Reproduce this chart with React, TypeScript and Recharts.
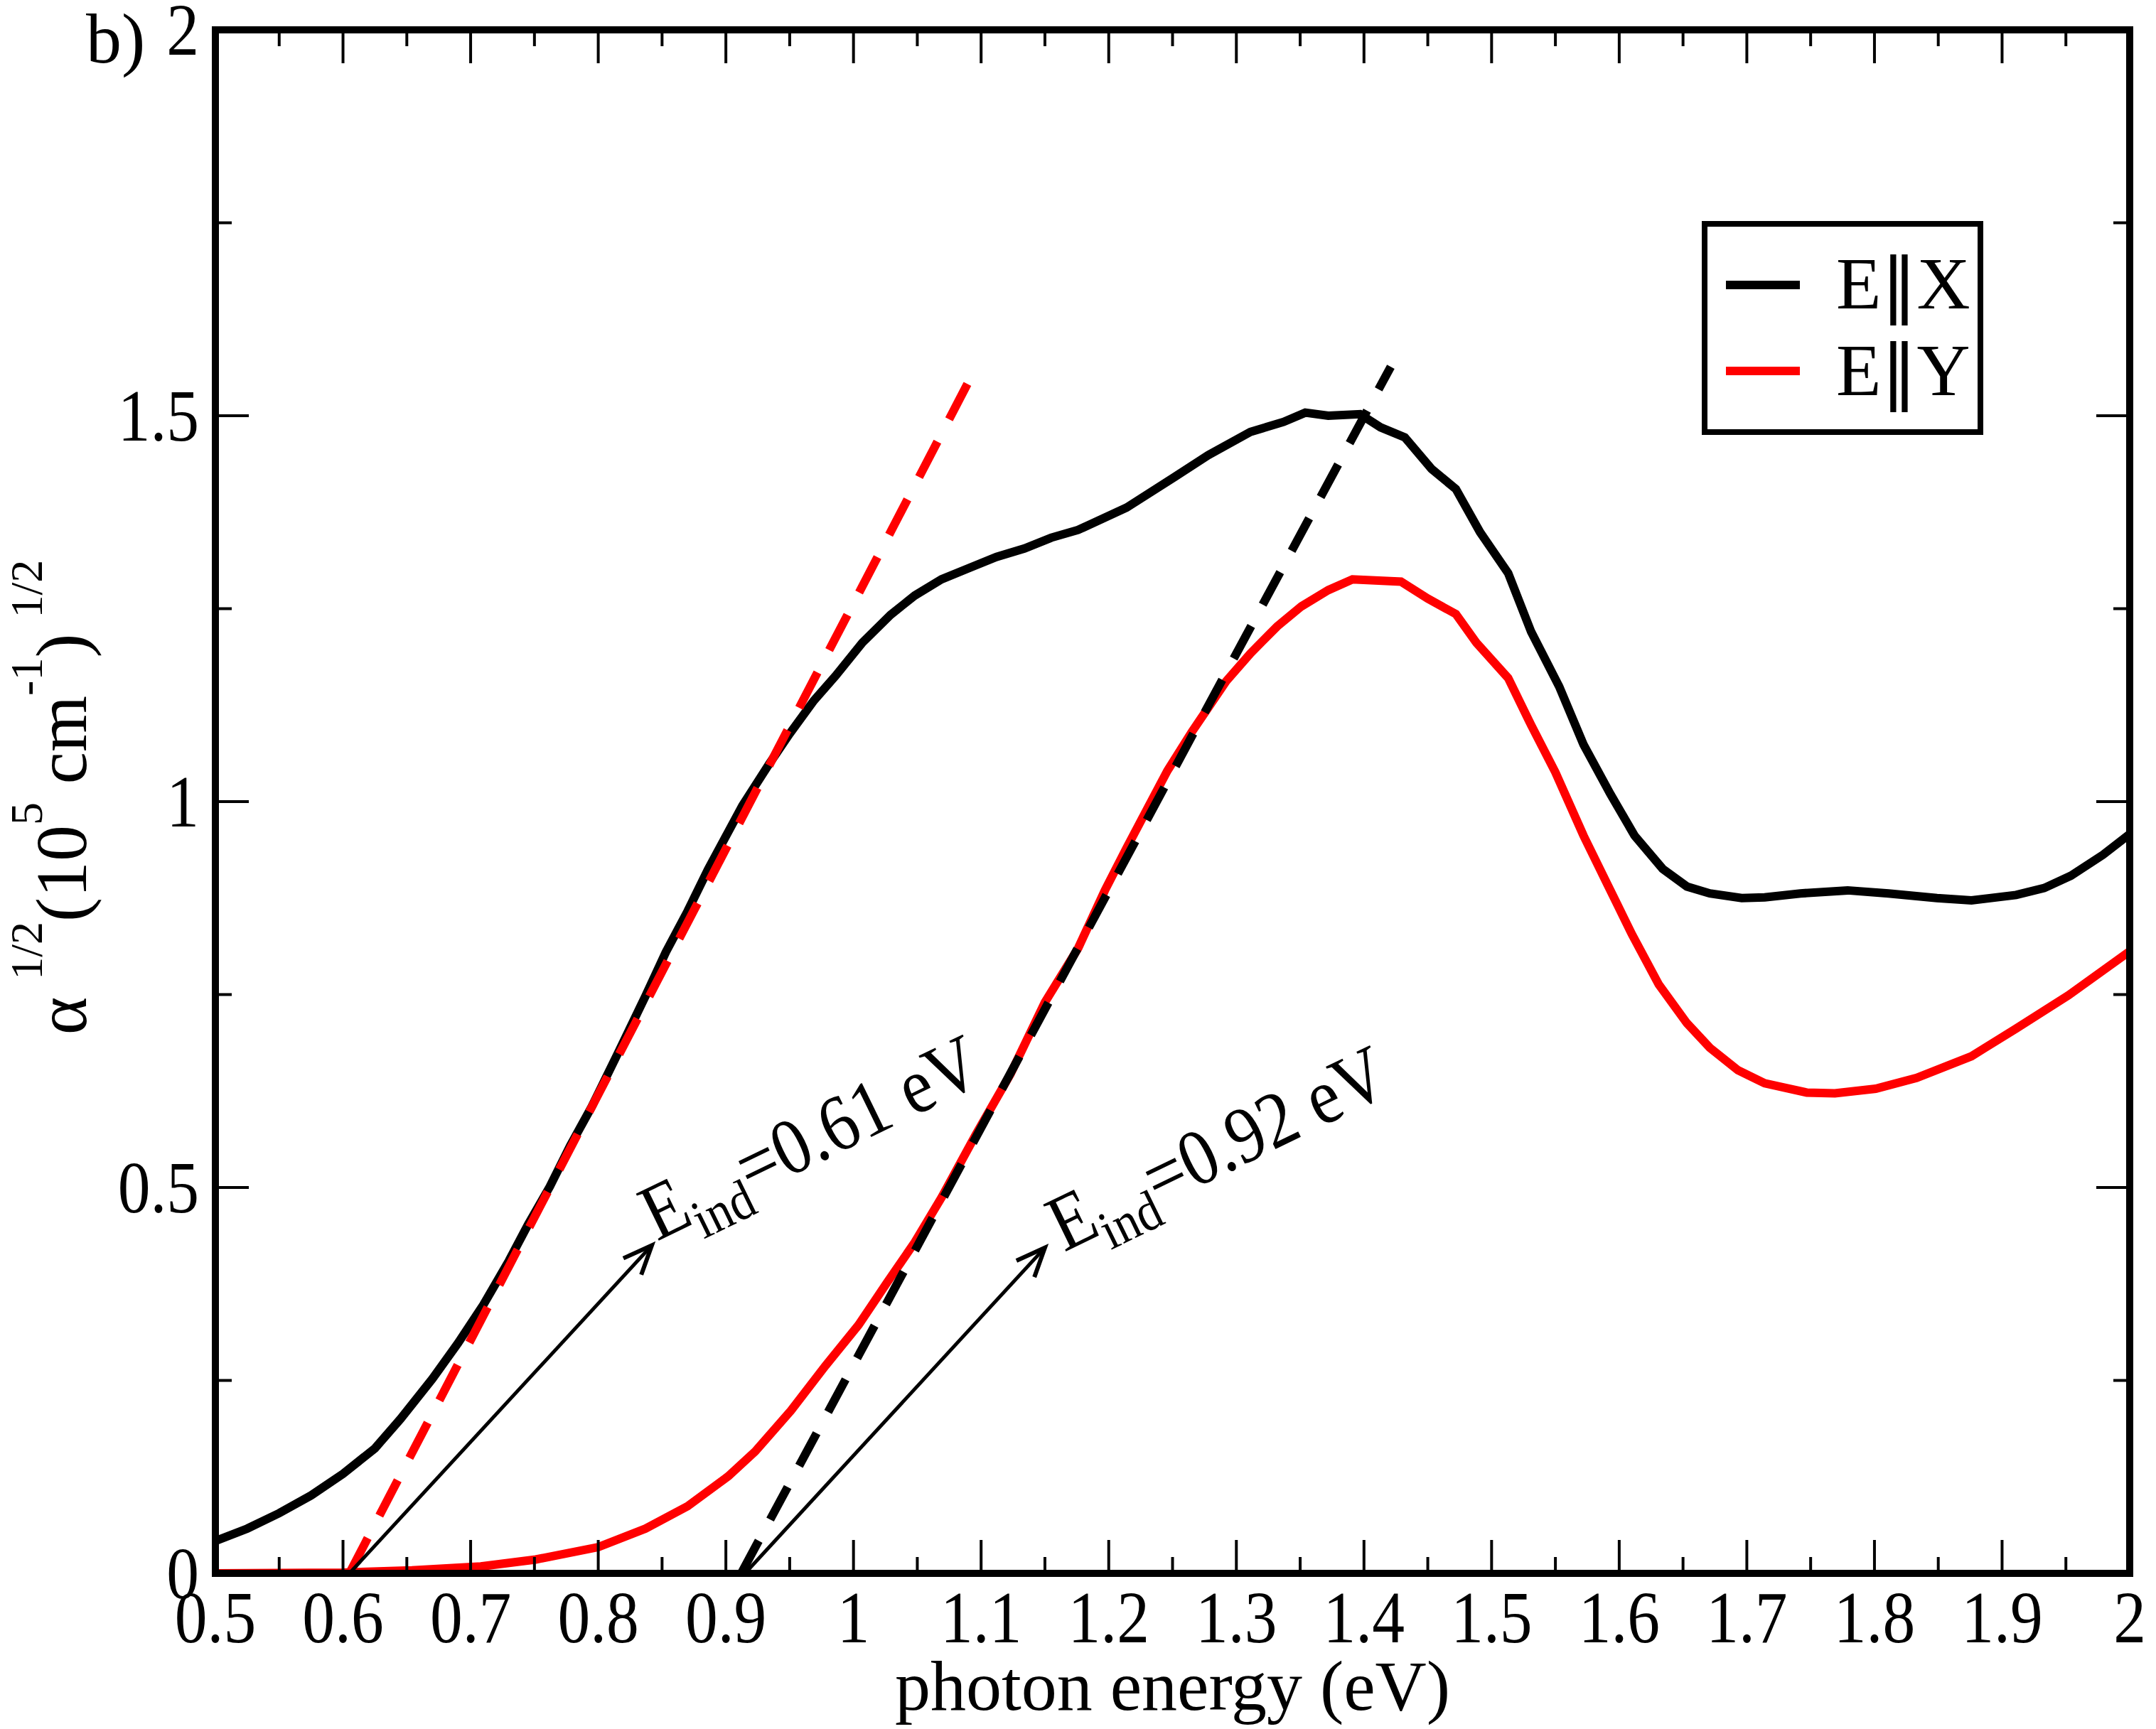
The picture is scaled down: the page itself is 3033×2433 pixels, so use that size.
import { LineChart, Line, XAxis, YAxis, Legend, ReferenceLine, ReferenceDot } from 'recharts'

const FONT = '"Liberation Serif", "Times New Roman", serif'

// tick values
const X_MAJOR = [0.5, 0.6, 0.7, 0.8, 0.9, 1, 1.1, 1.2, 1.3, 1.4, 1.5, 1.6, 1.7, 1.8, 1.9, 2]
const X_MINOR = [0.55, 0.65, 0.75, 0.85, 0.95, 1.05, 1.15, 1.25, 1.35, 1.45, 1.55, 1.65, 1.75, 1.85, 1.95]
const Y_MAJOR = [0, 0.5, 1, 1.5, 2]
const Y_MINOR = [0.25, 0.75, 1.25, 1.75]

// E||X, [photon energy, alpha^1/2]
const EX_POINTS: [number, number][] = [
  [0.5, 0.042], [0.525, 0.058], [0.55, 0.078], [0.575, 0.101], [0.6, 0.129], [0.625, 0.162],
  [0.645, 0.2], [0.67, 0.252], [0.69, 0.298], [0.71, 0.348], [0.73, 0.405], [0.745, 0.452],
  [0.762, 0.501], [0.778, 0.554], [0.795, 0.605], [0.816, 0.676], [0.837, 0.748], [0.853, 0.805],
  [0.87, 0.858], [0.886, 0.912], [0.913, 0.995], [0.934, 1.049], [0.95, 1.088], [0.969, 1.131],
  [0.986, 1.163], [1.007, 1.206], [1.029, 1.242], [1.048, 1.267], [1.069, 1.288], [1.091, 1.303],
  [1.112, 1.317], [1.134, 1.328], [1.155, 1.342], [1.176, 1.352], [1.214, 1.381], [1.251, 1.42],
  [1.278, 1.449], [1.311, 1.479], [1.337, 1.492], [1.354, 1.504], [1.372, 1.5], [1.397, 1.502],
  [1.413, 1.485], [1.432, 1.472], [1.453, 1.431], [1.472, 1.405], [1.491, 1.349], [1.513, 1.296],
  [1.531, 1.22], [1.553, 1.149], [1.572, 1.074], [1.593, 1.01], [1.612, 0.956], [1.634, 0.913],
  [1.653, 0.89], [1.671, 0.881], [1.696, 0.875], [1.714, 0.876], [1.742, 0.881], [1.779, 0.885],
  [1.811, 0.881], [1.849, 0.875], [1.876, 0.872], [1.911, 0.879], [1.933, 0.888], [1.954, 0.904],
  [1.979, 0.931], [2.0, 0.958],
]

// E||Y
const EY_POINTS: [number, number][] = [
  [0.5, 0], [0.6, 0.001], [0.654, 0.004], [0.708, 0.009], [0.751, 0.018], [0.8, 0.034],
  [0.837, 0.058], [0.87, 0.087], [0.902, 0.126], [0.923, 0.158], [0.951, 0.211], [0.978, 0.269],
  [1.004, 0.322], [1.026, 0.376], [1.048, 0.429], [1.069, 0.487], [1.096, 0.569], [1.123, 0.647],
  [1.15, 0.74], [1.176, 0.81], [1.197, 0.885], [1.214, 0.94], [1.23, 0.99], [1.246, 1.04],
  [1.265, 1.09], [1.292, 1.156], [1.311, 1.192], [1.332, 1.227], [1.351, 1.253], [1.372, 1.274],
  [1.391, 1.288], [1.429, 1.285], [1.45, 1.263], [1.472, 1.243], [1.488, 1.206], [1.513, 1.16],
  [1.531, 1.099], [1.55, 1.038], [1.572, 0.956], [1.591, 0.892], [1.61, 0.828], [1.631, 0.763],
  [1.653, 0.713], [1.671, 0.681], [1.693, 0.652], [1.714, 0.635], [1.747, 0.623], [1.769, 0.622],
  [1.801, 0.628], [1.833, 0.642], [1.876, 0.67], [1.911, 0.706], [1.952, 0.749], [2.0, 0.806],
]

// linear fits for the indirect gaps
const FIT_Y_POINTS: [number, number][] = [[0.605, 0], [1.0905, 1.545]]
const FIT_X_POINTS: [number, number][] = [[0.912, 0], [1.421, 1.5635]]

// arrows and their labels
const ARROWS: [number, number, number, number][] = [
  [0.605, 0, 0.842, 0.425],
  [0.915, 0, 1.15, 0.422],
]
const GAP_LABELS = [
  { x: 0.846, y: 0.43, value: '0.61' },
  { x: 1.165, y: 0.416, value: '0.92' },
]

const toRows = (pts: [number, number][]) => pts.map(([x, y]) => ({ x, y }))

function BottomTick({ x, y, payload }: any) {
  const major = X_MAJOR.includes(payload.value)
  return (
    <g>
      <line x1={x} y1={y} x2={x} y2={y - (major ? 47 : 23)} stroke="#000" strokeWidth={4} />
      {major && (
        <text transform={`translate(${x} ${y + 97}) scale(0.88 1)`} textAnchor="middle" fontSize={104} fontFamily={FONT} fill="#000">
          {String(payload.value)}
        </text>
      )}
    </g>
  )
}

function TopTick({ x, y, payload }: any) {
  const major = X_MAJOR.includes(payload.value)
  return <line x1={x} y1={y} x2={x} y2={y + (major ? 47 : 23)} stroke="#000" strokeWidth={4} />
}

function LeftTick({ x, y, payload }: any) {
  const major = Y_MAJOR.includes(payload.value)
  return (
    <g>
      <line x1={x} y1={y} x2={x + (major ? 47 : 23)} y2={y} stroke="#000" strokeWidth={4} />
      {major && (
        <text transform={`translate(${x - 23} ${y + 35}) scale(0.88 1)`} textAnchor="end" fontSize={104} fontFamily={FONT} fill="#000">
          {String(payload.value)}
        </text>
      )}
    </g>
  )
}

function RightTick({ x, y, payload }: any) {
  const major = Y_MAJOR.includes(payload.value)
  return <line x1={x} y1={y} x2={x - (major ? 47 : 23)} y2={y} stroke="#000" strokeWidth={4} />
}

function Arrow({ x1, y1, x2, y2 }: any) {
  const ang = Math.atan2(y2 - y1, x2 - x1)
  const L = 44
  const A = 0.4
  const a = [x2 - L * Math.cos(ang - A), y2 - L * Math.sin(ang - A)]
  const b = [x2 - L * Math.cos(ang + A), y2 - L * Math.sin(ang + A)]
  return (
    <g>
      <line x1={x1} y1={y1} x2={x2} y2={y2} stroke="#000" strokeWidth={5} />
      <polyline points={`${a[0]},${a[1]} ${x2},${y2} ${b[0]},${b[1]}`} fill="none" stroke="#000" strokeWidth={6} />
    </g>
  )
}

function gapLabel(value: string) {
  return ({ cx, cy }: any) => (
    <text transform={`translate(${cx} ${cy}) rotate(-26) scale(0.88 1)`} fontSize={112} fontFamily={FONT} fill="#000">
      E<tspan dy={26} fontSize={78}>ind</tspan>
      <tspan dy={-26}>={value}{'\u00a0'}eV</tspan>
    </text>
  )
}

function LegendName({ value }: { value: string }) {
  const [a, b] = value.split('‖')
  return (
    <>
      {a}
      <tspan fontFamily='"DejaVu Sans", sans-serif' fontSize={100}>‖</tspan>
      {b}
    </>
  )
}

function LegendBox({ payload }: any) {
  const items = (payload ?? []).filter((p: any) => p.value === 'E‖X' || p.value === 'E‖Y')
  return (
    <svg width={396} height={301}>
      <rect x={4} y={4} width={388} height={293} fill="#fff" stroke="#000" strokeWidth={8} />
      {items.map((it: any, i: number) => (
        <g key={it.value}>
          <line x1={34} x2={138} y1={90 + i * 121} y2={90 + i * 121} stroke={it.color} strokeWidth={12} />
          <text x={189} y={123 + i * 122} fontSize={104} fontFamily={FONT} fill="#000">
            <LegendName value={it.value} />
          </text>
        </g>
      ))}
    </svg>
  )
}

function YTitle({ viewBox }: any) {
  const cy = viewBox.y + viewBox.height / 2 - 6
  return (
    <text transform={`translate(121 ${cy}) rotate(-90)`} textAnchor="middle" fontSize={102} fontFamily={FONT} fill="#000">
      α<tspan dx={24} dy={-62} fontSize={64}>1/2</tspan>
      <tspan dy={62} fontSize={102}>(10</tspan>
      <tspan dy={-62} fontSize={64}>5</tspan>
      <tspan dy={62} fontSize={102}>{'\u00a0'}cm</tspan>
      <tspan dy={-62} fontSize={64}>-1</tspan>
      <tspan dy={62} fontSize={102}>)</tspan>
      <tspan dx={22} dy={-62} fontSize={64}>1/2</tspan>
    </text>
  )
}

function XTitle({ viewBox }: any) {
  return (
    <text x={viewBox.x + viewBox.width / 2} y={viewBox.y + 192} textAnchor="middle" fontSize={100} fontFamily={FONT} fill="#000">
      photon energy (eV)
    </text>
  )
}

function PanelTag({ viewBox }: any) {
  return (
    <text x={121} y={viewBox.y + viewBox.height + 46} fontSize={100} fontFamily={FONT} fill="#000">
      b)
    </text>
  )
}

const AXIS_LINE = { stroke: '#000', strokeWidth: 10, strokeLinecap: 'square' as const }
const X_TICKS = [...X_MAJOR, ...X_MINOR].sort((a, b) => a - b)
const Y_TICKS = [...Y_MAJOR, ...Y_MINOR].sort((a, b) => a - b)

export default function App() {
  return (
    <div style={{ position: 'absolute', left: 0, top: 0, background: '#fff' }}>
      <LineChart width={3033} height={2433} margin={{ top: 41, right: 36, bottom: 0, left: 0 }}>
        <XAxis
          xAxisId="b"
          dataKey="x"
          type="number"
          domain={[0.5, 2]}
          allowDataOverflow
          ticks={X_TICKS}
          interval={0}
          height={219}
          tickSize={0}
          tickMargin={0}
          tickLine={false}
          axisLine={AXIS_LINE}
          tick={<BottomTick />}
          label={{ content: (p: any) => <XTitle {...p} /> }}
        />
        <XAxis
          xAxisId="t"
          dataKey="x"
          type="number"
          orientation="top"
          domain={[0.5, 2]}
          allowDataOverflow
          ticks={X_TICKS}
          interval={0}
          height={1}
          tickSize={0}
          tickMargin={0}
          tickLine={false}
          axisLine={AXIS_LINE}
          tick={<TopTick />}
          label={{ content: (p: any) => <PanelTag {...p} /> }}
        />
        <YAxis
          yAxisId="l"
          type="number"
          domain={[0, 2]}
          allowDataOverflow
          ticks={Y_TICKS}
          interval={0}
          width={303}
          tickSize={0}
          tickMargin={0}
          tickLine={false}
          axisLine={AXIS_LINE}
          tick={<LeftTick />}
          label={{ content: (p: any) => <YTitle {...p} /> }}
        />
        <YAxis
          yAxisId="r"
          type="number"
          orientation="right"
          domain={[0, 2]}
          allowDataOverflow
          ticks={Y_TICKS}
          interval={0}
          width={1}
          tickSize={0}
          tickMargin={0}
          tickLine={false}
          axisLine={AXIS_LINE}
          tick={<RightTick />}
        />
        <Legend
          layout="vertical"
          align="center"
          verticalAlign="middle"
          wrapperStyle={{ left: 2394, top: 311, width: 396, height: 301 }}
          content={(p: any) => <LegendBox {...p} />}
        />
        <Line
          xAxisId="b"
          yAxisId="l"
          data={toRows(EX_POINTS)}
          dataKey="y"
          name="E‖X"
          type="linear"
          stroke="#000000"
          strokeWidth={12}
          dot={false}
          isAnimationActive={false}
        />
        <Line
          xAxisId="b"
          yAxisId="l"
          data={toRows(EY_POINTS)}
          dataKey="y"
          name="E‖Y"
          type="linear"
          stroke="#ff0000"
          strokeWidth={12}
          dot={false}
          isAnimationActive={false}
        />
        <Line
          xAxisId="t"
          yAxisId="r"
          data={toRows(FIT_Y_POINTS)}
          dataKey="y"
          name="fit Y"
          legendType="none"
          type="linear"
          stroke="#ff0000"
          strokeWidth={12}
          strokeDasharray="56 35.5"
          dot={false}
          isAnimationActive={false}
        />
        <Line
          xAxisId="t"
          yAxisId="r"
          data={toRows(FIT_X_POINTS)}
          dataKey="y"
          name="fit X"
          legendType="none"
          type="linear"
          stroke="#000000"
          strokeWidth={12}
          strokeDasharray="52 34"
          dot={false}
          isAnimationActive={false}
        />
        {ARROWS.map(([xa, ya, xb, yb], i) => (
          <ReferenceLine
            key={`arrow-${i}`}
            xAxisId="b"
            yAxisId="l"
            segment={[{ x: xa, y: ya }, { x: xb, y: yb }]}
            shape={(p: any) => <Arrow {...p} />}
          />
        ))}
        {GAP_LABELS.map((g) => (
          <ReferenceDot key={g.value} xAxisId="b" yAxisId="l" x={g.x} y={g.y} r={1} shape={gapLabel(g.value)} />
        ))}
      </LineChart>
    </div>
  )
}
